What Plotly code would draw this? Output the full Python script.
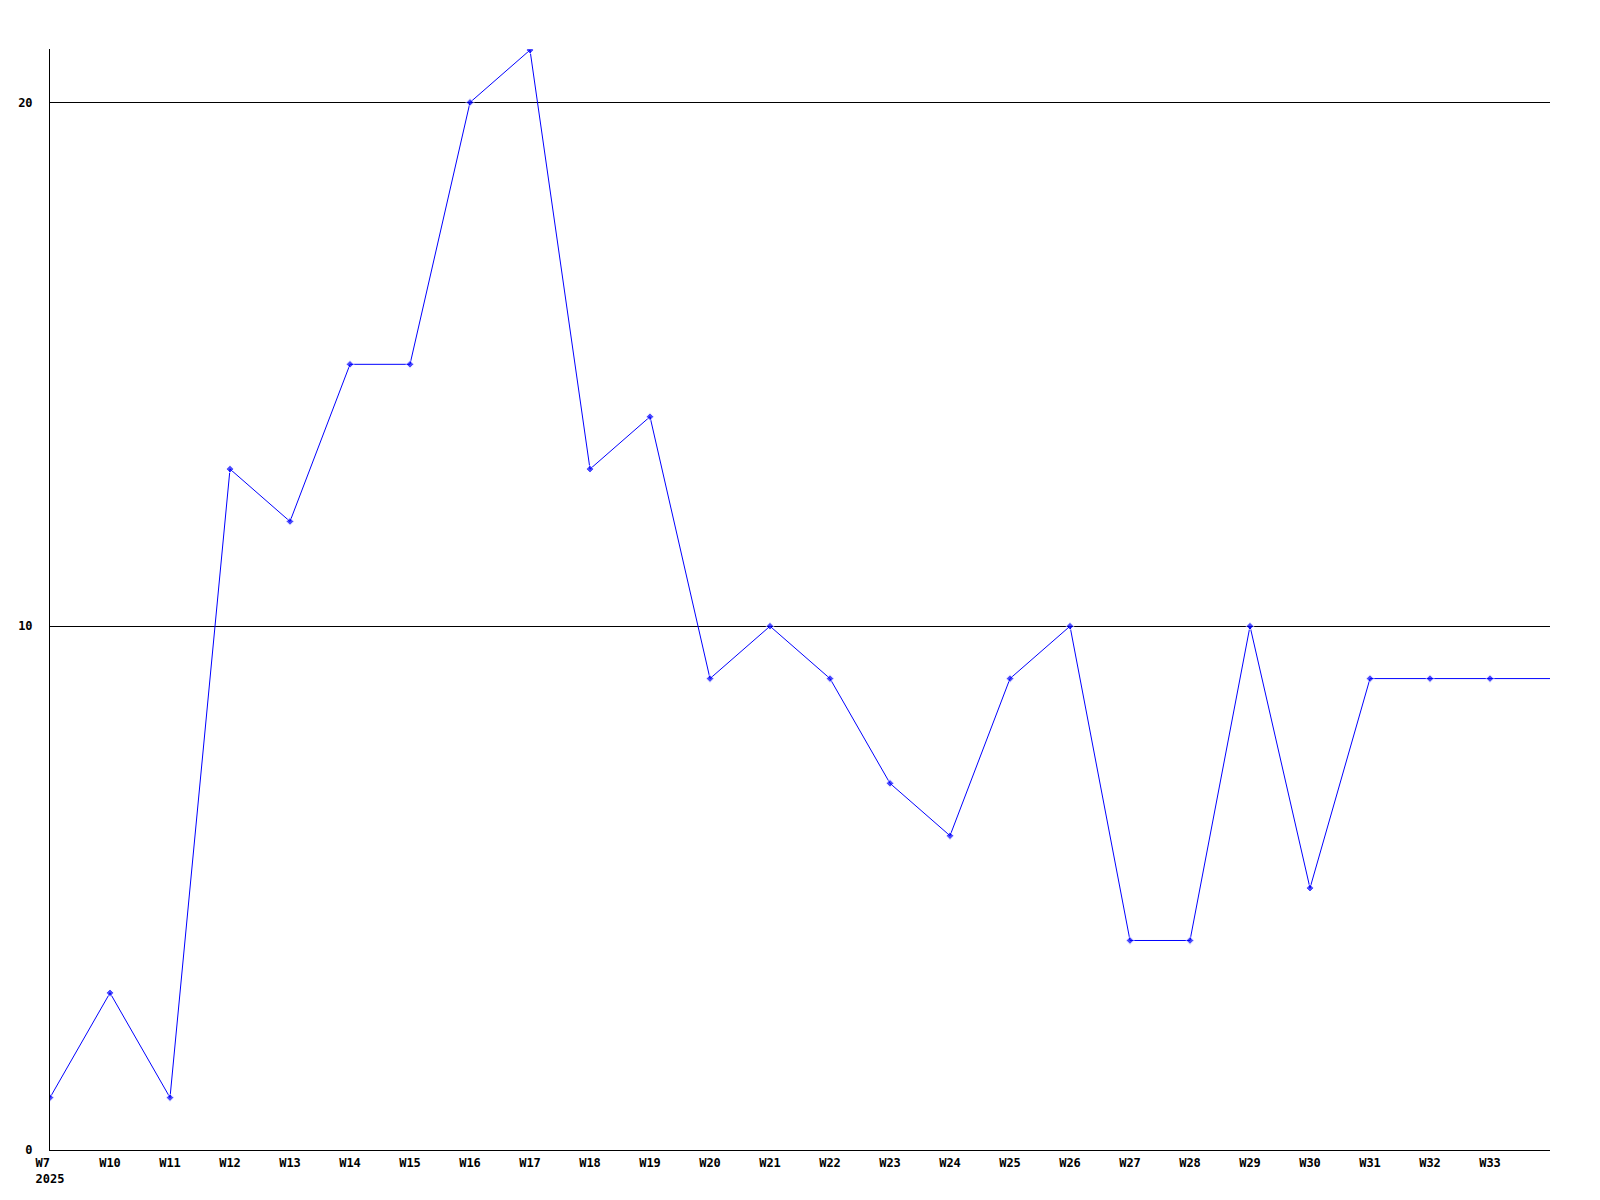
import plotly.graph_objects as go

weeks = ["W7", "W10", "W11", "W12", "W13", "W14", "W15", "W16", "W17", "W18",
         "W19", "W20", "W21", "W22", "W23", "W24", "W25", "W26", "W27", "W28",
         "W29", "W30", "W31", "W32", "W33", "W34"]
values = [1, 3, 1, 13, 12, 15, 15, 20, 21, 13,
          14, 9, 10, 9, 7, 6, 9, 10, 4, 4,
          10, 5, 9, 9, 9, 9]
year_label = "2025"
y_ticks = [0, 10, 20]

x = list(range(len(weeks)))
tick_text = ["<b>" + w + "</b>" for w in weeks[:-1]]
tick_text[0] = "<b>" + weeks[0] + "&nbsp;&nbsp;<br>" + year_label + "</b>"
marker_sizes = [6] * (len(weeks) - 1) + [0]

fig = go.Figure()
fig.add_trace(go.Scatter(
    x=x, y=values, mode="lines+markers",
    line=dict(color="#0000ff", width=1),
    marker=dict(symbol="diamond", size=marker_sizes, color="#0000ff"),
    hoverinfo="skip",
))

fig.update_layout(
    width=1600, height=1200,
    margin=dict(l=42, r=58, t=41, b=58, autoexpand=False),
    paper_bgcolor="white", plot_bgcolor="white",
    showlegend=False,
    font=dict(family="DejaVu Sans Mono", size=12, color="black"),
)
fig.update_xaxes(
    range=[0, len(weeks) - 1],
    tickmode="array", tickvals=x[:-1], ticktext=tick_text,
    showgrid=False, zeroline=False, automargin=False,
    showline=True, linecolor="black", linewidth=1,
    ticks="", ticklabelstandoff=2,
)
fig.update_yaxes(
    range=[0, 21.02],
    tickmode="array", tickvals=y_ticks,
    ticktext=["<b>" + str(v) + "</b>" for v in y_ticks],
    showgrid=True, gridcolor="black", gridwidth=1,
    zeroline=False, automargin=False,
    showline=True, linecolor="black", linewidth=1,
    ticks="", ticklabelstandoff=14,
)

fig.write_html("out.html")
